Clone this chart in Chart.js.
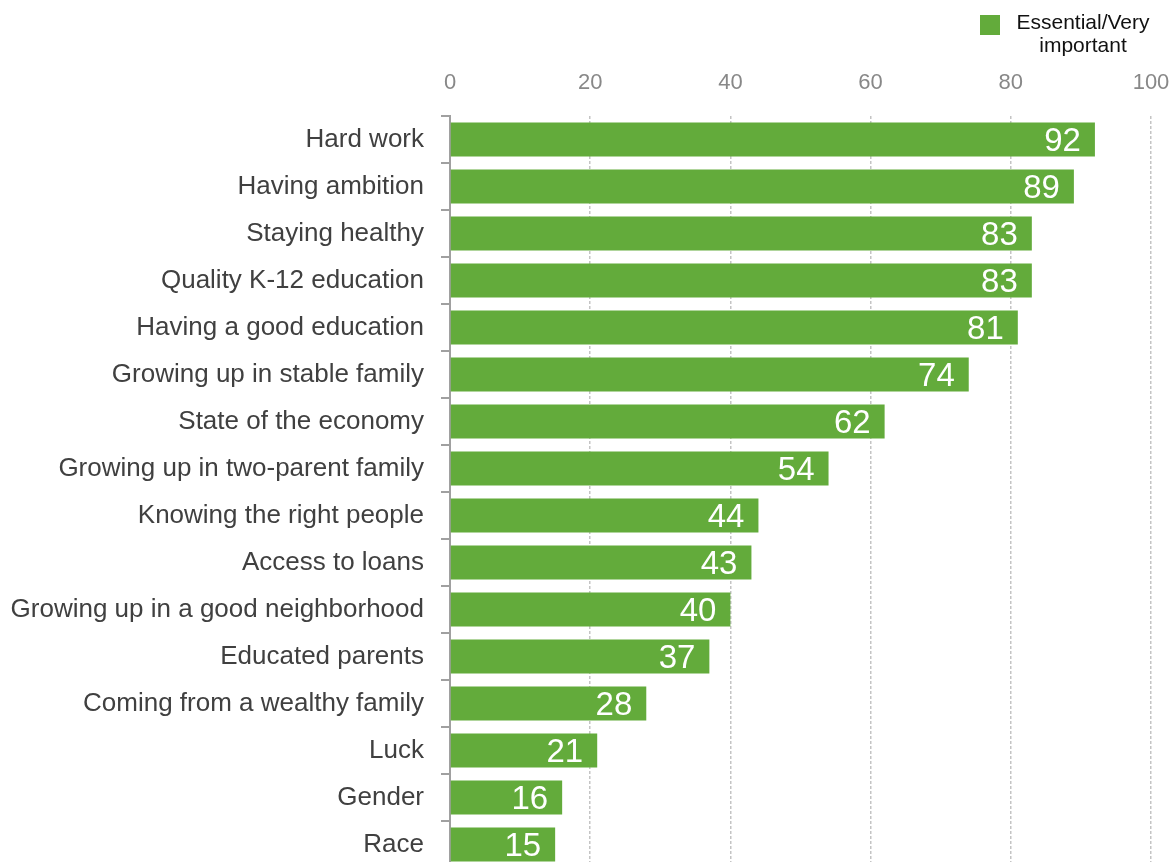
<!DOCTYPE html>
<html>
<head>
<meta charset="utf-8">
<script src="https://cdn.jsdelivr.net/npm/chart.js@4"></script>
<style>
  html, body { margin: 0; padding: 0; background: #fff; overflow: hidden; }
  #wrap { position: relative; width: 1176px; height: 868px; }
</style>
</head>
<body>
<div id="wrap"><canvas id="c"></canvas></div>
<script>
const categories = [
  "Hard work", "Having ambition", "Staying healthy", "Quality K-12 education",
  "Having a good education", "Growing up in stable family", "State of the economy",
  "Growing up in two-parent family", "Knowing the right people", "Access to loans",
  "Growing up in a good neighborhood", "Educated parents", "Coming from a wealthy family",
  "Luck", "Gender", "Race"
];
const essentialValues = [92, 89, 83, 83, 81, 74, 62, 54, 44, 43, 40, 37, 28, 21, 16, 15];
const seriesLabel = ["Essential/Very", "important"];
const xTicks = [0, 20, 40, 60, 80, 100];

const GREEN = '#63AB3B';
const FONT = "'Liberation Sans', Arial, Helvetica, sans-serif";

const valueLabels = {
  id: 'valueLabels',
  afterDatasetsDraw(chart) {
    const ctx = chart.ctx;
    const meta = chart.getDatasetMeta(0);
    ctx.save();
    ctx.fillStyle = '#ffffff';
    ctx.font = '33px ' + FONT;
    ctx.textAlign = 'right';
    ctx.textBaseline = 'middle';
    meta.data.forEach((bar, i) => {
      ctx.fillText(String(chart.data.datasets[0].data[i]), bar.x - 14, bar.y + 2);
    });
    ctx.restore();
  }
};

const legendBox = {
  id: 'legendBox',
  afterDraw(chart) {
    const ctx = chart.ctx;
    ctx.save();
    ctx.fillStyle = GREEN;
    ctx.fillRect(980, 15, 20, 20);
    ctx.fillStyle = '#111111';
    ctx.font = '21px ' + FONT;
    ctx.textAlign = 'center';
    ctx.textBaseline = 'alphabetic';
    ctx.fillText(seriesLabel[0], 1083, 29);
    ctx.fillText(seriesLabel[1], 1083, 51.5);
    ctx.restore();
  }
};

new Chart(document.getElementById('c'), {
  type: 'bar',
  data: {
    labels: categories,
    datasets: [{
      label: seriesLabel.join(' '),
      data: essentialValues,
      backgroundColor: GREEN,
      borderWidth: 0,
      barPercentage: 0.72,
      categoryPercentage: 1.0
    }]
  },
  options: {
    indexAxis: 'y',
    responsive: true,
    maintainAspectRatio: false,
    animation: false,
    layout: { padding: { left: 0, right: 25, top: 0, bottom: 0 } },
    plugins: {
      legend: { display: false },
      tooltip: { enabled: false }
    },
    scales: {
      x: {
        position: 'top',
        min: 0,
        max: 100,
        afterBuildTicks(scale) { scale.ticks = xTicks.map(v => ({ value: v })); },
        afterFit(scale) {
          scale.height = 116;
          scale.paddingLeft = 0;
          scale.paddingRight = 0;
        },
        ticks: {
          color: '#888888',
          font: { family: FONT, size: 22 },
          padding: 20
        },
        grid: {
          color: '#c4c4c4',
          lineWidth: 1.5,
          drawTicks: false
        },
        border: { display: false, dash: [3, 2] }
      },
      y: {
        afterFit(scale) {
          scale.width = 450;
          scale.paddingTop = 0;
          scale.paddingBottom = 0;
        },
        ticks: {
          color: '#404040',
          font: { family: FONT, size: 26 },
          padding: 17
        },
        grid: {
          offset: true,
          drawOnChartArea: false,
          drawTicks: true,
          tickLength: 9,
          color: '#a0a0a0',
          lineWidth: 2
        },
        border: { display: true, color: '#a0a0a0', width: 2 }
      }
    }
  },
  plugins: [valueLabels, legendBox]
});
</script>
</body>
</html>
